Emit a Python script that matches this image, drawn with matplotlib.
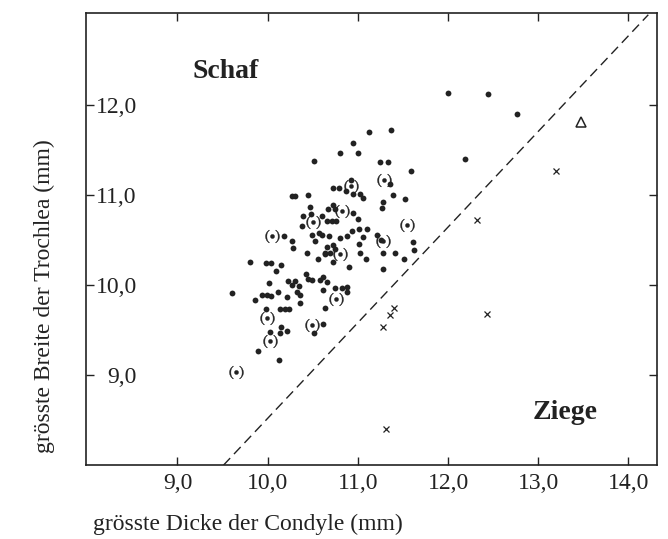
import matplotlib
matplotlib.use("Agg")
import matplotlib.pyplot as plt

# Schaf: filled dots
schaf_x = [11.12, 11.37, 10.95, 10.80, 11.00, 10.51, 11.25, 11.33, 11.59, 12.00,
           12.44, 12.76, 12.19, 11.36, 10.92, 10.72, 10.79, 10.87, 10.95, 11.02,
           11.06, 11.39, 11.52, 11.28, 11.27, 10.27, 10.30, 10.45, 10.47, 10.72,
           10.67, 10.75, 10.95, 11.00, 10.39, 10.48, 10.60, 10.66, 10.71, 10.76,
           10.38, 10.18, 10.49, 10.57, 10.52, 10.27, 10.28, 10.44, 10.56, 10.64,
           9.80, 9.98, 10.04, 10.15, 10.09, 10.42, 10.45, 10.49, 10.58, 10.23,
           10.30, 10.27, 10.35, 10.61, 10.01, 10.32, 10.36, 10.11, 9.60, 9.94,
           9.99, 10.04, 9.86, 10.21, 10.93, 11.01, 11.10, 10.88, 10.80, 10.68,
           10.60, 11.06, 11.21, 11.61, 11.62, 11.01, 10.72, 10.66, 10.75, 10.64,
           10.69, 11.02, 11.09, 11.28, 11.41, 11.51, 10.72, 10.90, 11.28, 10.61,
           10.66, 10.75, 10.82, 10.88, 10.88, 10.36, 9.98, 10.14, 10.19, 10.24,
           10.64, 10.61, 10.51, 10.15, 10.14, 10.21, 10.03, 9.89, 10.13, 11.26]
schaf_y = [11.70, 11.72, 11.58, 11.46, 11.46, 11.38, 11.36, 11.36, 11.27, 12.13,
           12.12, 11.90, 11.40, 11.12, 11.16, 11.08, 11.08, 11.04, 11.01, 11.01,
           10.97, 11.00, 10.96, 10.92, 10.86, 10.99, 10.99, 11.00, 10.87, 10.89,
           10.84, 10.84, 10.80, 10.73, 10.77, 10.79, 10.77, 10.71, 10.71, 10.71,
           10.66, 10.54, 10.56, 10.58, 10.49, 10.49, 10.41, 10.36, 10.29, 10.34,
           10.26, 10.24, 10.24, 10.22, 10.16, 10.12, 10.07, 10.06, 10.06, 10.04,
           10.04, 10.00, 9.99, 9.94, 10.02, 9.92, 9.89, 9.92, 9.91, 9.89,
           9.89, 9.88, 9.83, 9.87, 10.60, 10.62, 10.62, 10.54, 10.52, 10.54,
           10.56, 10.53, 10.56, 10.48, 10.39, 10.46, 10.44, 10.42, 10.40, 10.36,
           10.36, 10.36, 10.29, 10.36, 10.36, 10.29, 10.26, 10.20, 10.18, 10.09,
           10.03, 9.97, 9.97, 9.98, 9.92, 9.80, 9.73, 9.73, 9.73, 9.73,
           9.74, 9.57, 9.47, 9.53, 9.47, 9.49, 9.48, 9.27, 9.17, 10.50]

# Schaf, uncertain: dots in brackets
klammer_x = [11.29, 10.92, 10.82, 10.50, 11.54, 10.05, 11.28, 10.80, 10.76, 9.99,
             10.49, 10.03, 9.65]
klammer_y = [11.17, 11.10, 10.82, 10.70, 10.67, 10.54, 10.49, 10.34, 9.84, 9.63,
             9.56, 9.38, 9.03]

# Ziege: crosses
ziege_x = [13.20, 12.32, 12.43, 11.40, 11.36, 11.28, 11.31]
ziege_y = [11.27, 10.72, 9.68, 9.74, 9.67, 9.53, 8.40]

# single open triangle
dreieck_x = [13.47]
dreieck_y = [11.81]

# dividing line
trenn_x = [9.51, 14.22]
trenn_y = [8.0, 13.0]

x_ticks = [9.0, 10.0, 11.0, 12.0, 13.0, 14.0]
x_labels = ["9,0", "10,0", "11,0", "12,0", "13,0", "14,0"]
y_ticks = [9.0, 10.0, 11.0, 12.0]
y_labels = ["9,0", "10,0", "11,0", "12,0"]

ink = "#222222"
plt.rcParams["font.family"] = ["Liberation Serif", "DejaVu Serif"]
plt.rcParams["mathtext.fontset"] = "stix"

fig = plt.figure(figsize=(6.68, 5.39), dpi=100)
ax = fig.add_axes([0.128, 0.137, 0.856, 0.839])

ax.plot(trenn_x, trenn_y, color=ink, lw=1.0, dashes=(7, 4))
ax.plot(schaf_x, schaf_y, "o", color=ink, ms=4.2, mew=0)
ax.plot(klammer_x, klammer_y, ls="none", marker=r"$(\bullet)$", color=ink,
        ms=10, mew=0.3)
ax.plot(ziege_x, ziege_y, "x", color=ink, ms=4, mew=0.9)
ax.plot(dreieck_x, dreieck_y, "^", mfc="none", mec=ink, ms=7, mew=1.1)

ax.text(9.53, 12.37, "Schaf", fontsize=20, fontweight="bold", color=ink,
        ha="center", va="center")
ax.text(13.30, 8.58, "Ziege", fontsize=20, fontweight="bold", color=ink,
        ha="center", va="center")

ax.set_xlim(7.98, 14.32)
ax.set_ylim(8.0, 13.02)
ax.set_xticks(x_ticks)
ax.set_xticklabels(x_labels)
ax.set_yticks(y_ticks)
ax.set_yticklabels(y_labels)

ax.tick_params(axis="both", direction="in", length=5.5, width=1.0,
               colors=ink, labelsize=17, top=True, right=True)
ax.tick_params(axis="x", pad=6)
ax.tick_params(axis="y", pad=-37)
for s in ax.spines.values():
    s.set_color(ink)
    s.set_linewidth(1.2)

fig.text(0.066, 0.45, "grösste Breite der Trochlea (mm)", rotation=90,
         fontsize=17, color=ink, ha="center", va="center")
fig.text(0.139, 0.028, "grösste Dicke der Condyle (mm)",
         fontsize=17, color=ink, ha="left", va="center")

fig.savefig("out.png", dpi=100)
